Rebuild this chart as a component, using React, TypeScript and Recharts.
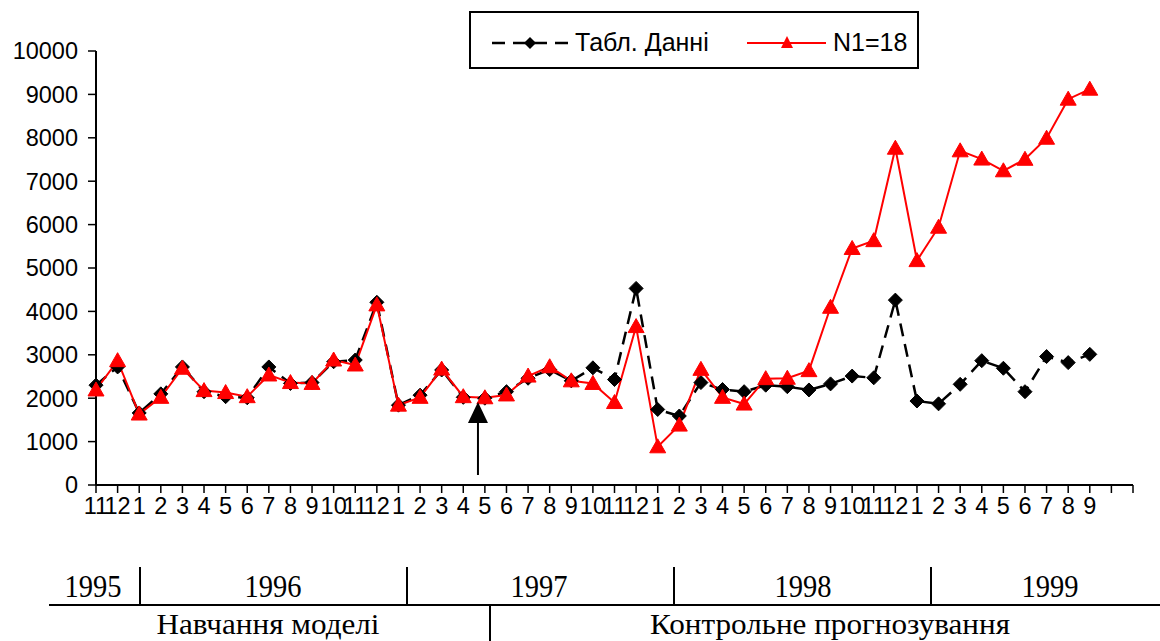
import React from 'react';
import { LineChart, Line, XAxis, YAxis, Legend } from 'recharts';

// ---- data ----
const monthLabels = [
  '11', '12',
  '1', '2', '3', '4', '5', '6', '7', '8', '9', '10', '11', '12',
  '1', '2', '3', '4', '5', '6', '7', '8', '9', '10', '11', '12',
  '1', '2', '3', '4', '5', '6', '7', '8', '9', '10', '11', '12',
  '1', '2', '3', '4', '5', '6', '7', '8', '9',
  '', '',
];

const tablData = [
  2300, 2720,
  1660, 2100, 2720, 2150, 2035, 2010, 2720, 2340, 2360, 2840, 2880, 4210,
  1840, 2070, 2650, 2020, 2000, 2150, 2460, 2660, 2400, 2700, 2430, 4530,
  1740, 1590, 2360, 2200, 2150, 2300, 2265, 2190, 2330, 2510, 2470, 4260,
  1935, 1870, 2320, 2865, 2690, 2150, 2960, 2820, 3010,
];

const n1Data = [
  2190, 2865,
  1635, 2020, 2690, 2175, 2130, 2035, 2535, 2360, 2340, 2880, 2765, 4150,
  1840, 2020, 2670, 2035, 2010, 2075, 2510, 2725, 2400, 2340, 1900, 3650,
  880, 1380, 2665, 2020, 1865, 2450, 2460, 2635, 4095, 5450, 5630, 7760,
  5170, 5940, 7700, 7510, 7240, 7505, 7990, 8890, 9120,
];

const yTicks = [0, 1000, 2000, 3000, 4000, 5000, 6000, 7000, 8000, 9000, 10000];

const seriesNames = ['Табл. Данні', 'N1=18'];

const yearLabels = ['1995', '1996', '1997', '1998', '1999'];
const phaseLabels = ['Навчання моделі', 'Контрольне прогнозування'];

// arrow marks the split between months (index position among categories)
const arrowCategoryPos = 17.68;

const chartData = monthLabels.map((m, i) => ({
  key: 'c' + i,
  label: m,
  tabl: i < tablData.length ? tablData[i] : null,
  n1: i < n1Data.length ? n1Data[i] : null,
}));

// ---- layout ----
const W = 1160;
const H = 641;
const PLOT_LEFT = 96;
const PLOT_RIGHT = 1133;
const PLOT_TOP = 51;
const PLOT_BOTTOM = 485;
const X_AXIS_H = 30;
const SANS = "'Liberation Sans', Arial, sans-serif";
const SERIF = "'Liberation Serif', 'Times New Roman', serif";

const Diamond = (props: any) => {
  const { cx, cy, index } = props;
  if (cx == null || cy == null) return <g key={'d' + index} />;
  const r = 7;
  return (
    <path
      key={'d' + index}
      d={`M${cx},${cy - r}L${cx + r},${cy}L${cx},${cy + r}L${cx - r},${cy}Z`}
      fill="#000"
      stroke="#000"
      strokeWidth={1}
    />
  );
};

const Triangle = (props: any) => {
  const { cx, cy, index } = props;
  if (cx == null || cy == null) return <g key={'t' + index} />;
  const w = 8;
  return (
    <path
      key={'t' + index}
      d={`M${cx},${cy - 8}L${cx + w},${cy + 6}L${cx - w},${cy + 6}Z`}
      fill="#ff0000"
      stroke="#ff0000"
      strokeWidth={1}
    />
  );
};

const LegendBox = () => (
  <svg width={450} height={58} style={{ display: 'block' }}>
    <rect x={1} y={1} width={448} height={56} fill="#fff" stroke="#000" strokeWidth={2} />
    <line x1={23} y1={32} x2={99} y2={32} stroke="#000" strokeWidth={2.5} strokeDasharray="13 8" />
    <path d="M61,26L67,32L61,38L55,32Z" fill="#000" />
    <text x={106} y={40} fontFamily={SANS} fontSize={25} fill="#000">{seriesNames[0]}</text>
    <line x1={278} y1={32} x2={357} y2={32} stroke="#ff0000" strokeWidth={2} />
    <path d="M318,25L324,37L312,37Z" fill="#ff0000" />
    <text x={364} y={40} fontFamily={SANS} fontSize={25} fill="#000">{seriesNames[1]}</text>
  </svg>
);

const step = (PLOT_RIGHT - PLOT_LEFT) / (monthLabels.length - 1);
const arrowX = PLOT_LEFT + arrowCategoryPos * step;

export default function App() {
  return (
    <div style={{ position: 'absolute', left: 0, top: 0, width: W, height: H, background: '#fff' }}>
      <LineChart
        width={W}
        height={H}
        data={chartData}
        margin={{ top: PLOT_TOP, right: W - PLOT_RIGHT, bottom: H - PLOT_BOTTOM - X_AXIS_H, left: 0 }}
      >
        <XAxis
          dataKey="key"
          height={X_AXIS_H}
          interval={0}
          tickFormatter={(v: string) => {
            const idx = Number(String(v).slice(1));
            return monthLabels[idx];
          }}
          tickSize={8}
          tickMargin={4}
          axisLine={{ stroke: '#000', strokeWidth: 2 }}
          tickLine={{ stroke: '#000', strokeWidth: 1.5 }}
          tick={{ fill: '#000', fontSize: 23.5, fontFamily: SANS }}
        />
        <YAxis
          width={PLOT_LEFT}
          domain={[0, 10000]}
          ticks={yTicks}
          interval={0}
          tickSize={8}
          tickMargin={10}
          axisLine={{ stroke: '#000', strokeWidth: 2 }}
          tickLine={{ stroke: '#000', strokeWidth: 1.5 }}
          tick={{ fill: '#000', fontSize: 23.5, fontFamily: SANS }}
        />
        <Legend
          layout="vertical"
          align="center"
          verticalAlign="middle"
          wrapperStyle={{ top: 11, left: 469, width: 450, height: 58 }}
          content={() => <LegendBox />}
        />
        <Line
          type="linear"
          dataKey="tabl"
          name={seriesNames[0]}
          stroke="#000"
          strokeWidth={2.5}
          strokeDasharray="13 8"
          dot={Diamond}
          activeDot={false}
          isAnimationActive={false}
        />
        <Line
          type="linear"
          dataKey="n1"
          name={seriesNames[1]}
          stroke="#ff0000"
          strokeWidth={2}
          dot={Triangle}
          activeDot={false}
          isAnimationActive={false}
        />
      </LineChart>
      <svg
        width={W}
        height={H}
        style={{ position: 'absolute', left: 0, top: 0, pointerEvents: 'none' }}
      >
        {/* arrow */}
        <line x1={arrowX} y1={475} x2={arrowX} y2={420} stroke="#000" strokeWidth={2} />
        <path d={`M${arrowX},402L${arrowX + 10},423L${arrowX - 10},423Z`} fill="#000" />
        {/* period table */}
        <line x1={49} y1={605} x2={1160} y2={605} stroke="#000" strokeWidth={2} />
        {[140, 407, 674, 931].map((x) => (
          <line key={x} x1={x} y1={567} x2={x} y2={605} stroke="#000" strokeWidth={2} />
        ))}
        <line x1={490} y1={605} x2={490} y2={641} stroke="#000" strokeWidth={2} />
        {yearLabels.map((y, i) => {
          const centers = [93, 273, 539, 803, 1050];
          return (
            <text
              key={y}
              x={centers[i]}
              y={597}
              textAnchor="middle"
              fontFamily={SERIF}
              fontSize={32}
              textLength={57}
              lengthAdjust="spacingAndGlyphs"
              fill="#000"
            >
              {y}
            </text>
          );
        })}
        <text x={268} y={634} textAnchor="middle" fontFamily={SERIF} fontSize={29} textLength={223} lengthAdjust="spacingAndGlyphs" fill="#000">
          {phaseLabels[0]}
        </text>
        <text x={830} y={634} textAnchor="middle" fontFamily={SERIF} fontSize={29} textLength={360} lengthAdjust="spacingAndGlyphs" fill="#000">
          {phaseLabels[1]}
        </text>
      </svg>
    </div>
  );
}
